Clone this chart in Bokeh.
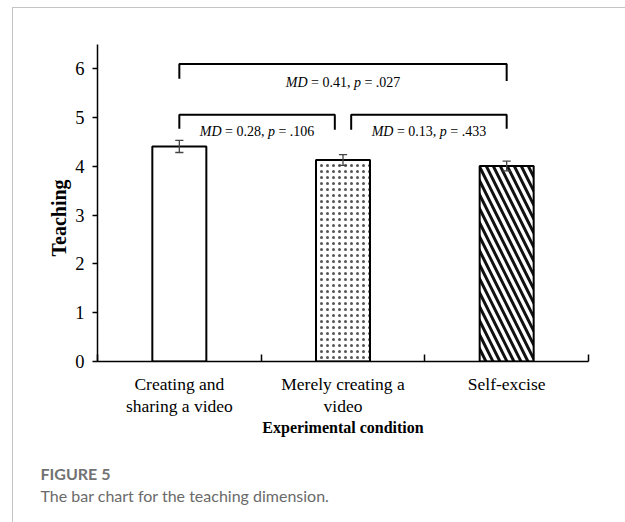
from bokeh.plotting import figure
from bokeh.models import Range1d, FixedTicker, Title, ColumnDataSource
from bokeh.core.properties import value
from bokeh.embed import file_html
from bokeh.resources import INLINE

# ---------------- data ----------------
categories = ["Creating and\nsharing a video", "Merely creating a\nvideo", "Self-excise"]
means = [4.41, 4.13, 4.01]
errors = [0.125, 0.11, 0.10]
patterns = [" ", ".", "\\"]
y_ticks = [0, 1, 2, 3, 4, 5, 6]

comp_left = [0, 0, 1]
comp_right = [2, 1, 2]
md_values = ["0.41", "0.28", "0.13"]
p_values = [".027", ".106", ".433"]

x_title = "Experimental condition"
y_title = "Teaching"
fig_label = "FIGURE 5"
caption = "The bar chart for the teaching dimension."

# ---------------- layout constants ----------------
W, H = 625, 522
SERIF = "Liberation Serif"
bracket_top = [6.1, 5.06, 5.06]
bracket_leg = [[5.8, 5.75], [4.77, 4.75], [4.75, 4.77]]
text_y = [5.72, 4.72, 4.72]
ANN_FS = 14

centers = [i + 0.5 for i in range(len(categories))]

p = figure(width=W, height=H, output_backend="svg", toolbar_location=None,
           x_range=Range1d(0, 3), y_range=Range1d(0, 6.5),
           min_border_left=97, min_border_right=37, min_border_top=44,
           min_border_bottom=161)
p.border_fill_color = None
p.outline_line_color = None
p.xgrid.visible = False
p.ygrid.visible = False
p.styles = {
    "background": ("linear-gradient(#c4c4c4,#c4c4c4) no-repeat 12px 7px / 1px 515px, "
                   "linear-gradient(#c4c4c4,#c4c4c4) no-repeat 12px 7px / 613px 1px"),
}

# bars
src = ColumnDataSource(dict(x=centers, top=means, pat=patterns,
                            hc=["#222222", "#555555", "#111111"],
                            hs=[6, 6, 14], hw=[0.55, 0.55, 3]))
p.vbar(x="x", top="top", width=0.33, source=src, fill_color="white",
       line_color="black", line_width=2, hatch_pattern="pat",
       hatch_color="hc", hatch_scale="hs", hatch_weight="hw")

# error bars
lo = [m - e for m, e in zip(means, errors)]
hi = [m + e for m, e in zip(means, errors)]
cap = 0.025
p.segment(x0=centers, x1=centers, y0=lo, y1=hi, line_color="#444444", line_width=1.3)
p.segment(x0=[c - cap for c in centers], x1=[c + cap for c in centers], y0=hi, y1=hi,
          line_color="#444444", line_width=1.3)
p.segment(x0=[c - cap for c in centers], x1=[c + cap for c in centers], y0=lo, y1=lo,
          line_color="#444444", line_width=1.3)

# brackets
xs, ys = [], []
for k, (l, r) in enumerate(zip(comp_left, comp_right)):
    x1 = centers[l] + (0.05 if l == 1 else 0)
    x2 = centers[r] - (0.05 if r == 1 else 0)
    xs.append([x1, x1, x2, x2])
    ys.append([bracket_leg[k][0], bracket_top[k], bracket_top[k], bracket_leg[k][1]])
p.multi_line(xs=xs, ys=ys, line_color="black", line_width=2)

# annotation text: pieces with italic MD and p (Times metrics)
italic_w = {"M": 833, "D": 722, "p": 500}
reg_w = {" ": 250, "=": 564, ".": 250, ",": 250}
for d in "0123456789":
    reg_w[d] = 500

def width(s, table):
    return sum(table[ch] for ch in s) * ANN_FS / 1000.0

it = dict(x=[], y=[], text=[], off=[])
rg = dict(x=[], y=[], text=[], off=[])
for k, (l, r) in enumerate(zip(comp_left, comp_right)):
    x1 = centers[l] + (0.05 if l == 1 else 0)
    x2 = centers[r] - (0.05 if r == 1 else 0)
    xm = (x1 + x2) / 2
    pieces = [("MD", True), (" = " + md_values[k] + ", ", False), ("p", True),
              (" = " + p_values[k], False)]
    total = sum(width(s, italic_w if ita else reg_w) for s, ita in pieces)
    cur = -total / 2
    for s, ita in pieces:
        w = width(s, italic_w if ita else reg_w)
        lead = len(s) - len(s.lstrip(" "))
        stripped = s.strip(" ")
        target = it if ita else rg
        target["x"].append(xm)
        target["y"].append(text_y[k])
        target["text"].append(stripped)
        target["off"].append(cur + lead * 250 * ANN_FS / 1000.0)
        cur += w

for d, style in ((it, "italic"), (rg, "normal")):
    p.text(x="x", y="y", text="text", x_offset="off", source=ColumnDataSource(d),
           text_font=value(SERIF), text_font_size=f"{ANN_FS}px",
           text_font_style=style, text_align="left", text_baseline="middle",
           text_color="black")

# axes
xa = p.xaxis[0]
xa.ticker = FixedTicker(ticks=centers, minor_ticks=[0, 1, 2, 3])
xa.major_label_overrides = {c: t for c, t in zip(centers, categories)}
xa.major_tick_line_color = None
xa.minor_tick_in = 7
xa.minor_tick_out = 0
xa.minor_tick_line_color = "black"
xa.minor_tick_line_width = 1.5
xa.axis_line_width = 1.5
xa.axis_line_color = "black"
xa.major_label_text_font = SERIF
xa.major_label_text_font_size = "17.5px"
xa.major_label_text_line_height = 1.1
xa.major_label_text_color = "black"
xa.major_label_standoff = 6
xa.axis_label = x_title
xa.axis_label_text_font = SERIF
xa.axis_label_text_font_style = "bold"
xa.axis_label_text_font_size = "16px"
xa.axis_label_text_color = "black"
xa.axis_label_standoff = 0

ya = p.yaxis[0]
ya.ticker = FixedTicker(ticks=y_ticks, minor_ticks=[])
ya.major_tick_in = 0
ya.major_tick_out = 5
ya.major_tick_line_width = 1.5
ya.major_tick_line_color = "black"
ya.axis_line_width = 1.5
ya.axis_line_color = "black"
ya.major_label_text_font = SERIF
ya.major_label_text_font_size = "18.5px"
ya.major_label_text_color = "black"
ya.major_label_standoff = 8

# y axis title (placed so that it is centred on the 0-6 scale, as in the original)
p.add_layout(Title(text=y_title, align="left", offset=105, standoff=5,
                   text_font=SERIF, text_font_style="bold", text_font_size="20px",
                   text_color="black"), "left")

# caption below the chart (a blank spacer title first, then label and caption)
p.add_layout(Title(text=" ", align="left", standoff=6, text_font="Lato",
                   text_font_size="12px"), "below")
p.add_layout(Title(text=fig_label, align="left", offset=-57, standoff=1,
                   text_font="Lato", text_font_style="bold", text_font_size="16px",
                   text_color="#727272"), "below")
p.add_layout(Title(text=caption, align="left", offset=-57, standoff=1,
                   text_font="Lato", text_font_style="normal", text_font_size="16px",
                   text_color="#6a6a6a"), "below")

open("out.html", "w").write(file_html(p, INLINE))
